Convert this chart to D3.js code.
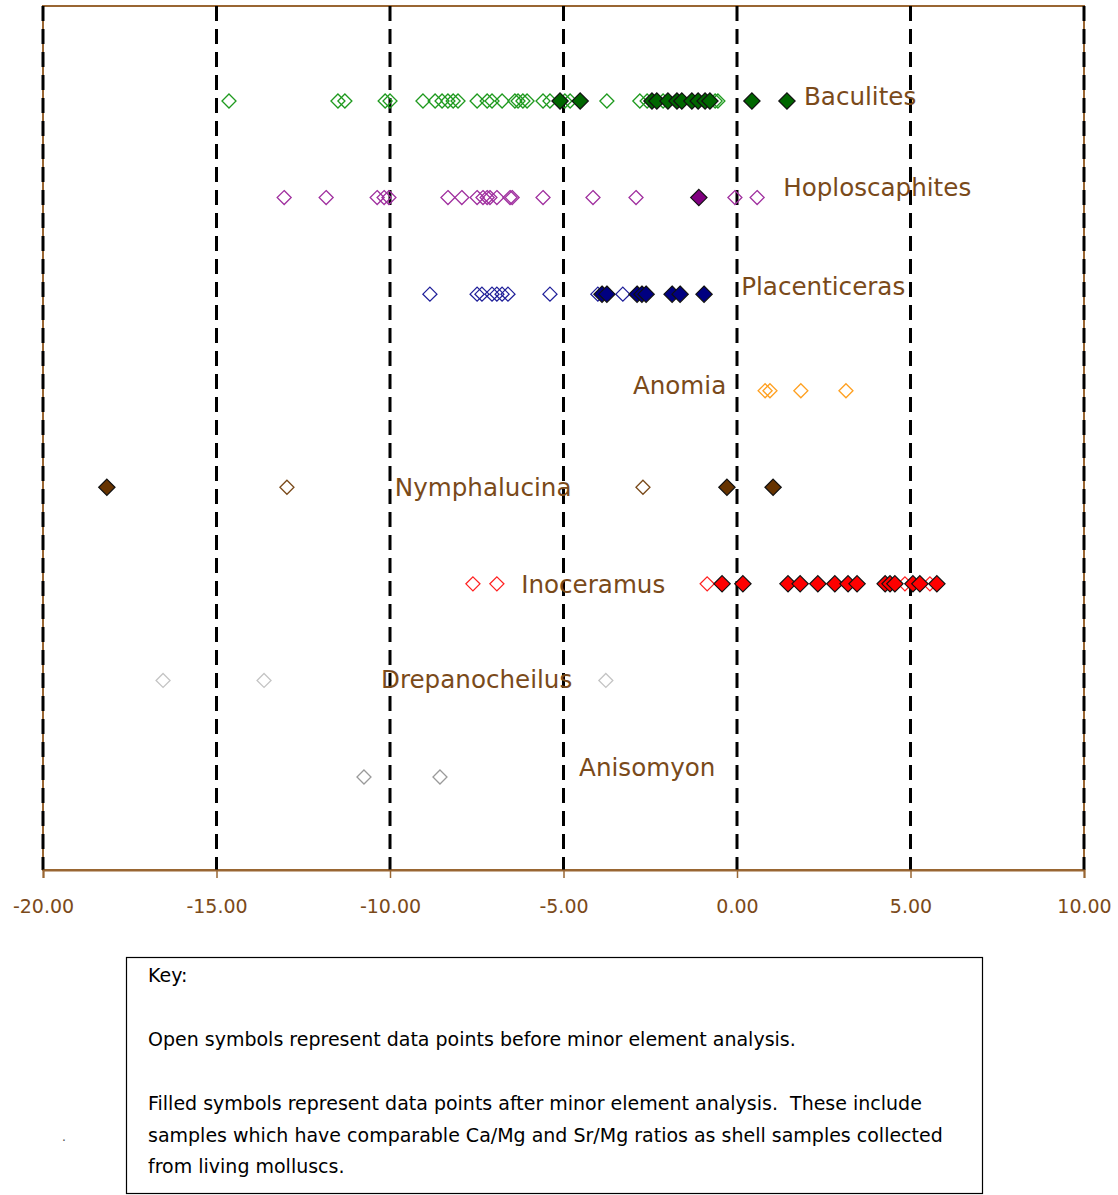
<!DOCTYPE html>
<html>
<head>
<meta charset="utf-8">
<script src="https://cdn.jsdelivr.net/npm/d3@7"></script>
<style>
  html, body { margin: 0; padding: 0; background: #ffffff; }
  svg { display: block; }
</style>
</head>
<body>
<svg id="chart" width="1118" height="1195"></svg>
<script>
// Genera, top to bottom
const genera = ["Baculites", "Hoploscaphites", "Placenticeras", "Anomia",
                "Nymphalucina", "Inoceramus", "Drepanocheilus", "Anisomyon"];

// Values before minor element analysis (open symbols)
const openBaculites = [-14.64, -11.50, -11.30, -10.14, -10.00, -9.05, -8.70, -8.50, -8.33, -8.18,
  -8.04, -7.49, -7.20, -7.06, -6.77, -6.40, -6.31, -6.17, -6.05, -5.59, -5.39, -4.96, -4.81,
  -3.75, -2.80, -2.59, -2.13, -0.63, -0.55];
const openHoploscaphites = [-13.05, -11.84, -10.37, -10.17, -10.03, -8.33, -7.93, -7.49, -7.32,
  -7.20, -7.12, -6.92, -6.54, -6.48, -5.59, -4.15, -2.91, -0.06, 0.58];
const openPlacenticeras = [-8.85, -7.49, -7.35, -7.06, -6.92, -6.77, -6.60, -5.39, -4.01, -3.29];
const openAnomia = [0.81, 0.95, 1.84, 3.14];
const openNymphalucina = [-12.97, -2.71];
const openInoceramus = [-7.61, -6.92, -0.86, 4.84, 5.56];
const openDrepanocheilus = [-16.54, -13.63, -3.78];
const openAnisomyon = [-10.75, -8.56];

// Values after minor element analysis (filled symbols)
const filledBaculites = [-5.10, -4.52, -2.45, -2.31, -1.99, -1.73, -1.59, -1.30, -1.12, -0.92,
  -0.78, 0.43, 1.44];
const filledHoploscaphites = [-1.10];
const filledPlacenticeras = [-3.89, -3.75, -2.88, -2.74, -2.62, -1.87, -1.64, -0.95];
const filledAnomia = [];
const filledNymphalucina = [-18.16, -0.29, 1.04];
const filledInoceramus = [-0.43, 0.17, 1.47, 1.82, 2.33, 2.82, 3.20, 3.46, 4.27, 4.41, 4.55,
  5.07, 5.27, 5.76];
const filledDrepanocheilus = [];
const filledAnisomyon = [];

// x-axis ticks
const xTicks = [-20, -15, -10, -5, 0, 5, 10];

const openValues = [openBaculites, openHoploscaphites, openPlacenticeras, openAnomia,
  openNymphalucina, openInoceramus, openDrepanocheilus, openAnisomyon];
const filledValues = [filledBaculites, filledHoploscaphites, filledPlacenticeras, filledAnomia,
  filledNymphalucina, filledInoceramus, filledDrepanocheilus, filledAnisomyon];

// Styling per genus
const openColors = ["#1f9a1f", "#a0309f", "#1f1f99", "#ffa020", "#7a4a1a", "#ff2020", "#c4c4c4", "#9a9a9a"];
const fillColors = ["#006600", "#800080", "#000080", "#ffa020", "#663300", "#ff0000", "#c4c4c4", "#9a9a9a"];

// Label anchors (x in data units, y offset in px relative to the row)
const labelLayout = [
  { x: 1.93, dy: -5 }, { x: 1.33, dy: -10 }, { x: 0.12, dy: -8 }, { x: -3.0, dy: -5 },
  { x: -9.86, dy: 0 }, { x: -6.22, dy: 1 }, { x: -10.26, dy: -1 }, { x: -4.55, dy: -10 }
];

const svg = d3.select("#chart");
const plotLeft = 43, plotRight = 1084, plotTop = 6, plotBottom = 870;
const brown = "#996633";
const textBrown = "#7a4a1a";

const x = d3.scaleLinear().domain([-20, 10]).range([plotLeft, plotRight]);
// Rows: 8 (Baculites) down to 1 (Anisomyon)
const y = d3.scaleLinear().domain([1, 8]).range([777, 101]);
const rowValue = i => 8 - i;

// Plot frame
svg.append("rect")
  .attr("x", plotLeft).attr("y", plotTop)
  .attr("width", plotRight - plotLeft).attr("height", plotBottom - plotTop)
  .attr("fill", "#ffffff").attr("stroke", brown).attr("stroke-width", 2);

// Dashed reference lines
svg.append("g").selectAll("line")
  .data(xTicks).join("line")
  .attr("x1", d => x(d)).attr("x2", d => x(d))
  .attr("y1", plotTop).attr("y2", plotBottom)
  .attr("stroke", "#000").attr("stroke-width", 3)
  .attr("stroke-dasharray", "15,8");

// Bottom axis
const axis = d3.axisBottom(x).tickValues(xTicks).tickSize(8).tickPadding(22)
  .tickFormat(d3.format(".2f"));
const gx = svg.append("g").attr("transform", `translate(0,${plotBottom})`).call(axis);
gx.select(".domain").attr("stroke", brown).attr("stroke-width", 2);
gx.selectAll(".tick line").attr("stroke", brown).attr("stroke-width", 1.5);
gx.selectAll(".tick text")
  .attr("fill", textBrown)
  .attr("font-family", "DejaVu Sans, sans-serif")
  .attr("font-size", 19)
  .text(d => d3.format(".2f")(d).replace("−", "-"));

// Diamond symbols
const openSym = d3.symbol().type(d3.symbolDiamond2).size(125);
const fillSym = d3.symbol().type(d3.symbolDiamond2).size(170);

const marks = svg.append("g");
genera.forEach((g, i) => {
  marks.append("g").selectAll("path")
    .data(openValues[i]).join("path")
    .attr("d", openSym)
    .attr("transform", d => `translate(${x(d)},${y(rowValue(i))})`)
    .attr("fill", "none")
    .attr("stroke", openColors[i])
    .attr("stroke-width", 1.3);
  marks.append("g").selectAll("path")
    .data(filledValues[i]).join("path")
    .attr("d", fillSym)
    .attr("transform", d => `translate(${x(d)},${y(rowValue(i))})`)
    .attr("fill", fillColors[i])
    .attr("stroke", "#111")
    .attr("stroke-width", 1.2);
});

// Genus labels
svg.append("g").selectAll("text")
  .data(genera).join("text")
  .attr("x", (d, i) => x(labelLayout[i].x))
  .attr("y", (d, i) => y(rowValue(i)) + labelLayout[i].dy)
  .attr("dy", "0.35em")
  .attr("fill", textBrown)
  .attr("font-family", "DejaVu Sans, sans-serif")
  .attr("font-size", 24.6)
  .text(d => d);

// Key box
const keyLines = [
  { t: "Key:", y: 982 },
  { t: "Open symbols represent data points before minor element analysis.", y: 1046 },
  { t: "Filled symbols represent data points after minor element analysis.  These include", y: 1110 },
  { t: "samples which have comparable Ca/Mg and Sr/Mg ratios as shell samples collected", y: 1142 },
  { t: "from living molluscs.", y: 1173 }
];
svg.append("rect")
  .attr("x", 126.5).attr("y", 957.5)
  .attr("width", 856).attr("height", 236)
  .attr("fill", "none").attr("stroke", "#000").attr("stroke-width", 1.2);
svg.append("g").selectAll("text")
  .data(keyLines).join("text")
  .attr("x", 148).attr("y", d => d.y)
  .attr("fill", "#000")
  .attr("font-family", "DejaVu Sans, sans-serif")
  .attr("font-size", 19)
  .attr("xml:space", "preserve")
  .style("white-space", "pre")
  .text(d => d.t);

svg.append("text")
  .attr("x", 62).attr("y", 1141)
  .attr("font-family", "Liberation Sans, Arial, sans-serif")
  .attr("font-size", 14)
  .attr("fill", "#555")
  .text(".");
</script>
</body>
</html>
